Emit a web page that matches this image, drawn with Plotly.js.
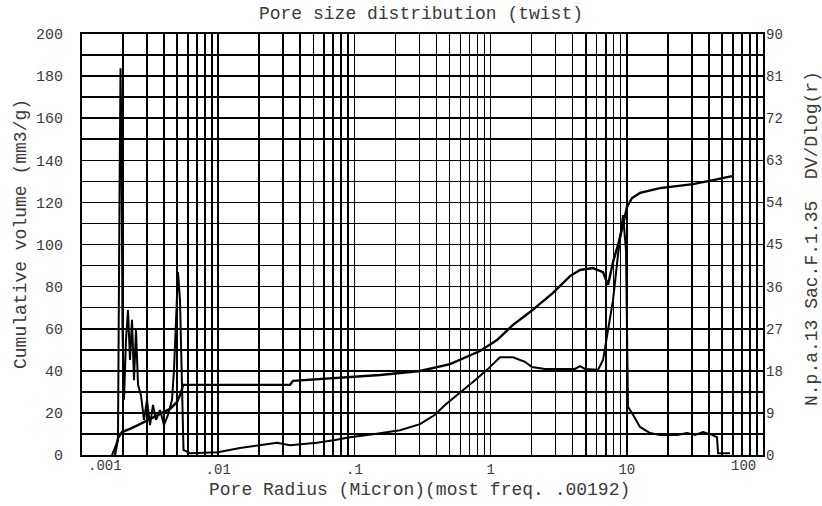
<!DOCTYPE html>
<html>
<head>
<meta charset="utf-8">
<script src="https://cdn.plot.ly/plotly-3.0.1.min.js"></script>
<style>html,body{margin:0;padding:0;background:#fff;}#chart{width:822px;height:506px;}</style>
</head>
<body>
<div id="chart"></div>
<script>
// Cumulative volume (left axis, mm3/g) vs pore radius (micron)
const radiusCum = [0.001747,0.001837,0.001966,0.002251,0.002665,0.003158,0.003739,0.004427,0.004983,0.005332,0.005515,
  0.03366,0.03541,0.0559,0.09283,0.1542,0.3031,0.5032,0.8359,1.114,1.46,1.947,2.872,3.828,4.533,5.646,6.688,
  7.278,7.92,8.617,9.378,10.03,10.92,12.5,17.53,30.63,42.95,59.22];
const cumVolume = [0,8.1,10.9,12.4,14.7,17.1,19.5,21.9,25.2,29.5,33.3,
  33.3,35.2,36.1,37.1,38.0,39.9,43.2,49.4,54.6,61.8,67.9,77.0,85.0,87.9,88.8,86.9,
  80.8,91.7,99.8,109.3,117.8,122.1,124.5,126.8,128.7,130.6,132.5];

// DV/Dlog(r) (right axis) vs pore radius (micron)
const radiusDV = [0.001661,0.001776,0.001837,0.001885,0.001918,0.00195,0.001983,0.002034,0.002104,0.002176,0.002251,
  0.002329,0.002409,0.002492,0.002578,0.00271,0.002851,0.003,0.003158,0.003321,0.003494,0.003739,0.003999,0.00428,
  0.00458,0.004737,0.004899,0.005068,0.005242,0.005422,0.005561,0.006209,0.009966,0.01445,0.02027,0.02703,0.03366,
  0.05313,0.07205,0.09283,0.1416,0.2162,0.3031,0.3907,0.4625,0.596,0.7683,0.941,1.172,1.46,1.789,2.014,2.507,4.166,
  4.533,4.933,6.146,6.688,7.278,7.92,8.617,9.378,9.865,10.2,10.92,12.5,14.8,17.53,23.37,27.67,31.68,36.27,42.23,
  45.96,46.74,57.25];
const dvDlogr = [0,1.9,3.2,54.5,82.7,65.2,26.7,11.8,24.6,31.0,20.3,
  28.9,16.0,26.7,15.0,12.8,7.5,11.8,6.4,10.7,7.5,9.6,6.4,8.6,
  11.8,18.2,28.9,39.1,33.1,15.0,1.1,0.4,0.6,1.5,2.1,2.6,2.1,
  2.6,3.2,3.8,4.5,5.3,6.6,8.6,10.7,13.3,16.0,18.2,20.9,20.9,19.9,18.8,18.4,18.4,
  19.0,18.4,18.2,20.3,26.7,33.1,42.8,51.3,43.8,10.3,9.0,6.0,4.7,4.3,4.3,4.7,4.3,4.9,4.3,
  3.8,0.4,0.4];

// Axis ticks
const xDecades = [0.001,0.01,0.1,1,10,100];
const xDecadeLabels = ['.001','.01','.1','1','10','100'];
const leftTicks = [0,20,40,60,80,100,120,140,160,180,200];
const rightTicks = [0,9,18,27,36,45,54,63,72,81,90];

const chartTitle = 'Pore size distribution (twist)';
const xTitle = 'Pore Radius (Micron)(most freq. .00192)';
const yTitle = 'Cumulative volume (mm3/g)';
const y2Title = 'N.p.a.13 Sac.F.1.35  DV/Dlog(r)';

// build tick arrays
const xTickVals = [], xTickText = [];
xDecades.forEach((d, i) => {
  for (let k = 1; k <= 9; k++) {
    if (d === 100 && k > 1) break;
    xTickVals.push(d * k);
    const isInner = (k === 1 && i > 0 && i < xDecades.length - 1);
    xTickText.push(isInner ? xDecadeLabels[i] : '');
  }
});
const yTickVals = [], yTickText = [];
for (let v = 0; v <= 200; v += 10) {
  yTickVals.push(v);
  yTickText.push(leftTicks.includes(v) ? String(v) : '');
}

const FONT = 'Liberation Mono, DejaVu Sans Mono, monospace';
const TXT = '#3a3a3a';

const traces = [
  {x: radiusCum, y: cumVolume, type: 'scatter', mode: 'lines', yaxis: 'y',
   line: {color: '#000', width: 2.4}, hoverinfo: 'skip', showlegend: false},
  {x: radiusDV, y: dvDlogr, type: 'scatter', mode: 'lines', yaxis: 'y2',
   line: {color: '#000', width: 2.0}, hoverinfo: 'skip', showlegend: false}
];

const px2x = p => (p - 82) / 681;
const px2y = p => (455 - p) / 421;

const layout = {
  width: 822, height: 506,
  margin: {l: 82, r: 59, t: 34, b: 51},
  paper_bgcolor: '#fff', plot_bgcolor: '#fff',
  showlegend: false,
  title: {text: chartTitle, x: 421/822, xanchor: 'center', y: 1 - 13/506, yanchor: 'middle',
          font: {family: FONT, size: 18, color: TXT}},
  xaxis: {type: 'log', range: [-3, 2], tickvals: xTickVals, ticktext: xTickText,
          showgrid: true, gridcolor: '#000', gridwidth: 1.6, zeroline: false,
          showline: true, mirror: true, linecolor: '#000', linewidth: 2,
          ticks: '', ticklabelstandoff: 0, tickfont: {family: FONT, size: 14, color: TXT}},
  yaxis: {range: [0, 200], tickvals: yTickVals, ticktext: yTickText,
          showgrid: true, gridcolor: '#000', gridwidth: 1.6, zeroline: false,
          showline: true, mirror: true, linecolor: '#000', linewidth: 2,
          ticks: '', ticklabelstandoff: 14, tickfont: {family: FONT, size: 15, color: TXT}},
  yaxis2: {range: [0, 90], overlaying: 'y', side: 'right', tickvals: rightTicks,
           showgrid: false, zeroline: false, showline: false, ticks: '', ticklabelstandoff: 2,
           tickfont: {family: FONT, size: 14, color: TXT}},
  annotations: [
    {text: xDecadeLabels[0], xref: 'paper', yref: 'paper', x: px2x(105), y: px2y(466),
     xanchor: 'center', yanchor: 'middle', showarrow: false, font: {family: FONT, size: 14, color: TXT}},
    {text: xDecadeLabels[5], xref: 'paper', yref: 'paper', x: px2x(743), y: px2y(466),
     xanchor: 'center', yanchor: 'middle', showarrow: false, font: {family: FONT, size: 14, color: TXT}},
    {text: xTitle, xref: 'paper', yref: 'paper', x: px2x(419), y: px2y(490),
     xanchor: 'center', yanchor: 'middle', showarrow: false, font: {family: FONT, size: 18, color: TXT}},
    {text: yTitle, xref: 'paper', yref: 'paper', x: px2x(21), y: px2y(234), textangle: -90,
     xanchor: 'center', yanchor: 'middle', showarrow: false, font: {family: FONT, size: 18, color: TXT}},
    {text: y2Title, xref: 'paper', yref: 'paper', x: px2x(812), y: px2y(238), textangle: -90,
     xanchor: 'center', yanchor: 'middle', showarrow: false, font: {family: FONT, size: 18, color: TXT}}
  ]
};

Plotly.newPlot('chart', traces, layout, {staticPlot: true, displayModeBar: false});
</script>
</body>
</html>
